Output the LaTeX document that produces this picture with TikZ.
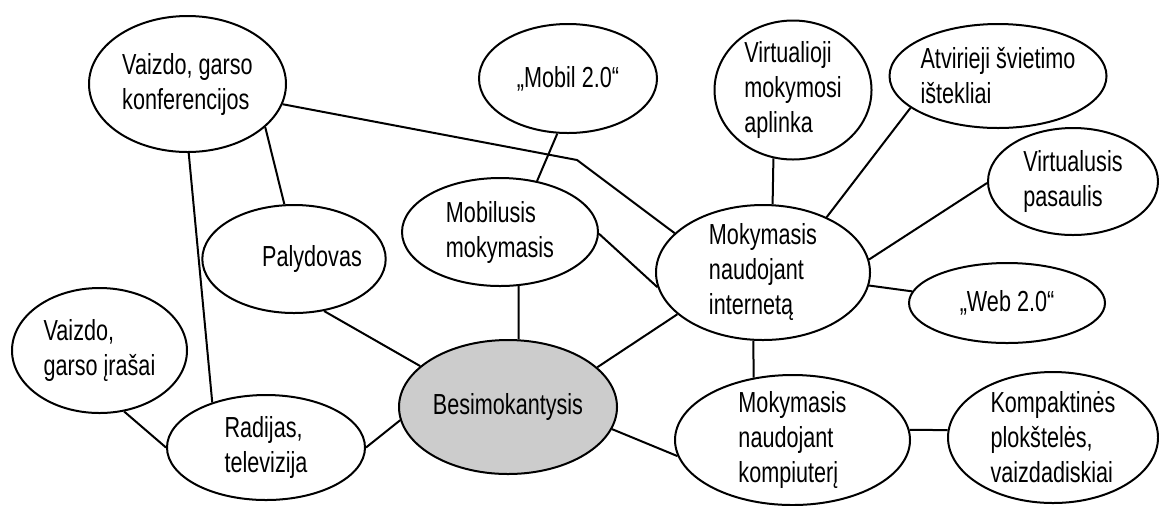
\documentclass[tikz,border=0pt]{standalone}
\usepackage{fontspec}
\setmainfont{Liberation Sans}[FakeStretch=0.745]
\usetikzlibrary{shapes.geometric}
\definecolor{learnergray}{gray}{0.8}

\begin{document}
\begin{tikzpicture}[x=0.5pt, y=-0.5pt, line width=1pt,
        bubble/.style={draw, ellipse, align=left, inner sep=-1.5pt,
            font=\fontsize{14.5pt}{17.5pt}\selectfont}]
    \useasboundingbox (0, 0) rectangle (1159, 505);

    \node [bubble, minimum width=98.5pt, minimum height=68pt] (konf) at (187.5, 84) {Vaizdo, garso\\konferencijos};
    \node [bubble, minimum width=89pt, minimum height=54.5pt] (mobil) at (568, 78.5) {„Mobil 2.0“};
    \node [bubble, minimum width=78.5pt, minimum height=69.5pt] (virtual) at (793, 90) {Virtualioji\\mokymosi\\aplinka};
    \node [bubble, minimum width=108.5pt, minimum height=52pt] (atvir) at (998, 76) {Atvirieji švietimo\\ištekliai};
    \node [bubble, minimum width=85pt, minimum height=53.5pt] (virtpas) at (1073, 181.5) {Virtualusis\\pasaulis};
    \node [bubble, minimum width=98pt, minimum height=54pt] (mobilus) at (500, 232) {Mobilusis\\mokymasis};
    \node [bubble, minimum width=88.5pt, minimum height=54pt] (palyd) at (294, 259) {\hspace*{18pt}Palydovas};
    \node [bubble, minimum width=107pt, minimum height=67.5pt] (internet) at (763, 272.5) {Mokymasis\\naudojant\\internetą};
    \node [bubble, minimum width=98pt, minimum height=40pt] (web) at (1007, 303) {„Web 2.0“};
    \node [bubble, minimum width=87.5pt, minimum height=62.5pt] (irasai) at (99.5, 350.5) {Vaizdo,\\garso įrašai};
    \node [bubble, minimum width=99pt, minimum height=52.5pt] (radij) at (266, 447.5) {Radijas,\\televizija};
    \node [bubble, fill=learnergray, minimum width=109pt, minimum height=67pt] (learner) at (508, 407) {Besimokantysis};
    \node [bubble, minimum width=117.5pt, minimum height=65pt] (kompiut) at (792.5, 440) {Mokymasis\\naudojant\\kompiuterį};
    \node [bubble, minimum width=105pt, minimum height=65.5pt] (kompakt) at (1053, 437.5) {Kompaktinės\\plokštelės,\\vaizdadiskiai};

    \coordinate (bend) at (577, 160);

    \draw (konf.348) -- (bend) -- (internet.156);
    \draw (konf.331) -- (palyd.100);
    \draw (konf.271) -- (radij.140);
    \draw (mobil.259) -- (mobilus.54);
    \draw (mobilus.289) -- (learner.81);
    \draw (mobilus.359) -- (internet.188);
    \draw (virtual.254) -- (internet.82);
    \draw (atvir.200) -- (internet.41);
    \draw (virtpas.181) -- (internet.7);
    \draw (internet.353) -- (web.173);
    \draw (internet.262) -- (kompiut.122);
    \draw (learner.24) -- (internet.206);
    \draw (learner.348) -- (kompiut.188);
    \draw (kompiut.5) -- (kompakt.176);
    \draw (palyd.300) -- (learner.155);
    \draw (irasai.292) -- (radij.180);
    \draw (radij.0) -- (learner.187);
\end{tikzpicture}
\end{document}
